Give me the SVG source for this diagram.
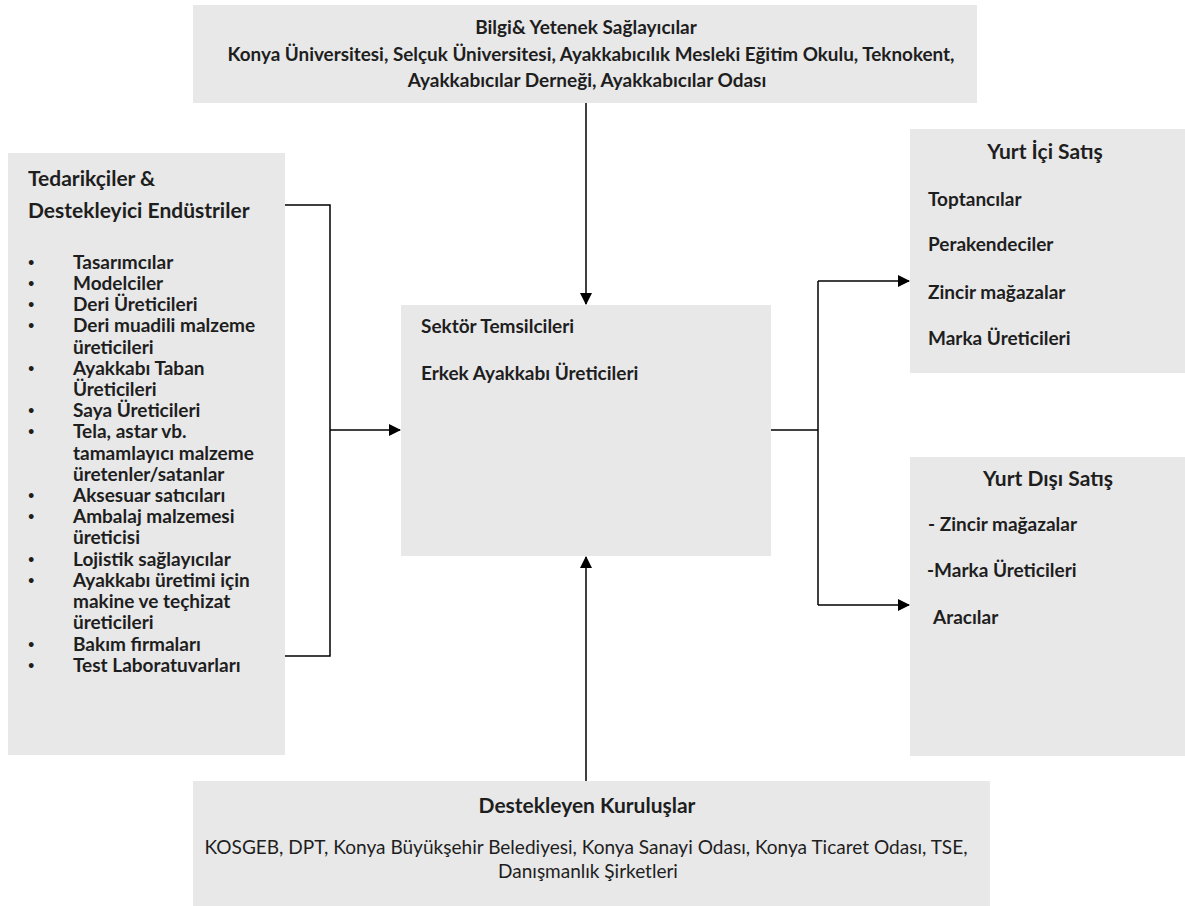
<svg xmlns="http://www.w3.org/2000/svg" width="1185" height="906" viewBox="0 0 1185 906">
<defs>
<marker id="ah" markerWidth="12" markerHeight="12" refX="11" refY="6" orient="auto" markerUnits="userSpaceOnUse">
<path d="M0,0 L12,6 L0,12 Z" fill="#000"/>
</marker>
<style>
.box{fill:#e8e8e8;}
text{font-family:Lato,"Open Sans","Liberation Sans",sans-serif;fill:#1e1e1e;font-weight:bold;}
.t19{font-size:19px;}
.h21{font-size:21px;}
.n19{font-size:19px;font-weight:normal;}
.b{font-size:11px;}
.c{text-anchor:middle;}
.ln{stroke:#000;stroke-width:1.5;fill:none;}
</style>
</defs>
<rect width="1185" height="906" fill="#fff"/>

<g id="top">
<rect class="box" x="193" y="5" width="784" height="98"/>
<text class="t19 c" x="586" y="34">Bilgi&amp; Yetenek Sağlayıcılar</text>
<text class="t19 c" x="591" y="61" textLength="727" lengthAdjust="spacingAndGlyphs">Konya Üniversitesi, Selçuk Üniversitesi, Ayakkabıcılık Mesleki Eğitim Okulu, Teknokent,</text>
<text class="t19 c" x="587" y="87">Ayakkabıcılar Derneği, Ayakkabıcılar Odası</text>
</g>

<g id="left">
<rect class="box" x="8" y="153" width="277" height="602"/>
<text class="h21" x="28" y="186">Tedarikçiler &amp;</text>
<text class="h21" x="28" y="218">Destekleyici Endüstriler</text>
<g class="t19">
<text class="b" x="28" y="266">•</text><text x="73" y="269">Tasarımcılar</text>
<text class="b" x="28" y="287">•</text><text x="73" y="290">Modelciler</text>
<text class="b" x="28" y="308">•</text><text x="73" y="311">Deri Üreticileri</text>
<text class="b" x="28" y="329">•</text><text x="73" y="332">Deri muadili malzeme</text>
<text x="73" y="354">üreticileri</text>
<text class="b" x="28" y="372">•</text><text x="73" y="375">Ayakkabı Taban</text>
<text x="73" y="396">Üreticileri</text>
<text class="b" x="28" y="414">•</text><text x="73" y="417">Saya Üreticileri</text>
<text class="b" x="28" y="435">•</text><text x="73" y="438">Tela, astar vb.</text>
<text x="73" y="460">tamamlayıcı malzeme</text>
<text x="73" y="481">üretenler/satanlar</text>
<text class="b" x="28" y="499">•</text><text x="73" y="502">Aksesuar satıcıları</text>
<text class="b" x="28" y="520">•</text><text x="73" y="523">Ambalaj malzemesi</text>
<text x="73" y="544">üreticisi</text>
<text class="b" x="28" y="563">•</text><text x="73" y="566">Lojistik sağlayıcılar</text>
<text class="b" x="28" y="584">•</text><text x="73" y="587">Ayakkabı üretimi için</text>
<text x="73" y="608">makine ve teçhizat</text>
<text x="73" y="629">üreticileri</text>
<text class="b" x="28" y="648">•</text><text x="73" y="651">Bakım firmaları</text>
<text class="b" x="28" y="669">•</text><text x="73" y="672">Test Laboratuvarları</text>
</g>
</g>

<g id="center">
<rect class="box" x="401" y="305" width="370" height="251"/>
<text class="t19" x="421" y="333">Sektör Temsilcileri</text>
<text class="t19" x="421" y="380">Erkek Ayakkabı Üreticileri</text>
</g>

<g id="domestic">
<rect class="box" x="910" y="129" width="275" height="244"/>
<text class="h21 c" x="1045" y="159">Yurt İçi Satış</text>
<text class="t19" x="928" y="206">Toptancılar</text>
<text class="t19" x="928" y="251">Perakendeciler</text>
<text class="t19" x="928" y="299">Zincir mağazalar</text>
<text class="t19" x="928" y="345">Marka Üreticileri</text>
</g>

<g id="foreign">
<rect class="box" x="910" y="457" width="275" height="299"/>
<text class="h21 c" x="1048" y="486">Yurt Dışı Satış</text>
<text class="t19" x="928" y="531">- Zincir mağazalar</text>
<text class="t19" x="927" y="577">-Marka Üreticileri</text>
<text class="t19" x="933" y="624">Aracılar</text>
</g>

<g id="bottom">
<rect class="box" x="193" y="781" width="797" height="125"/>
<text class="h21 c" x="587" y="813">Destekleyen Kuruluşlar</text>
<text class="n19 c" x="586" y="854" textLength="763" lengthAdjust="spacingAndGlyphs">KOSGEB, DPT, Konya Büyükşehir Belediyesi, Konya Sanayi Odası, Konya Ticaret Odası, TSE,</text>
<text class="n19 c" x="588" y="878">Danışmanlık Şirketleri</text>
</g>

<g id="connectors">
<path class="ln" d="M586,103 L586,304" marker-end="url(#ah)"/>
<path class="ln" d="M586,781 L586,557" marker-end="url(#ah)"/>
<path class="ln" d="M285,205 L330,205 L330,656 L285,656"/>
<path class="ln" d="M330,430 L400,430" marker-end="url(#ah)"/>
<path class="ln" d="M771,430 L818,430"/>
<path class="ln" d="M818,281 L818,605"/>
<path class="ln" d="M818,281 L909,281" marker-end="url(#ah)"/>
<path class="ln" d="M818,605 L909,605" marker-end="url(#ah)"/>
</g>
</svg>
